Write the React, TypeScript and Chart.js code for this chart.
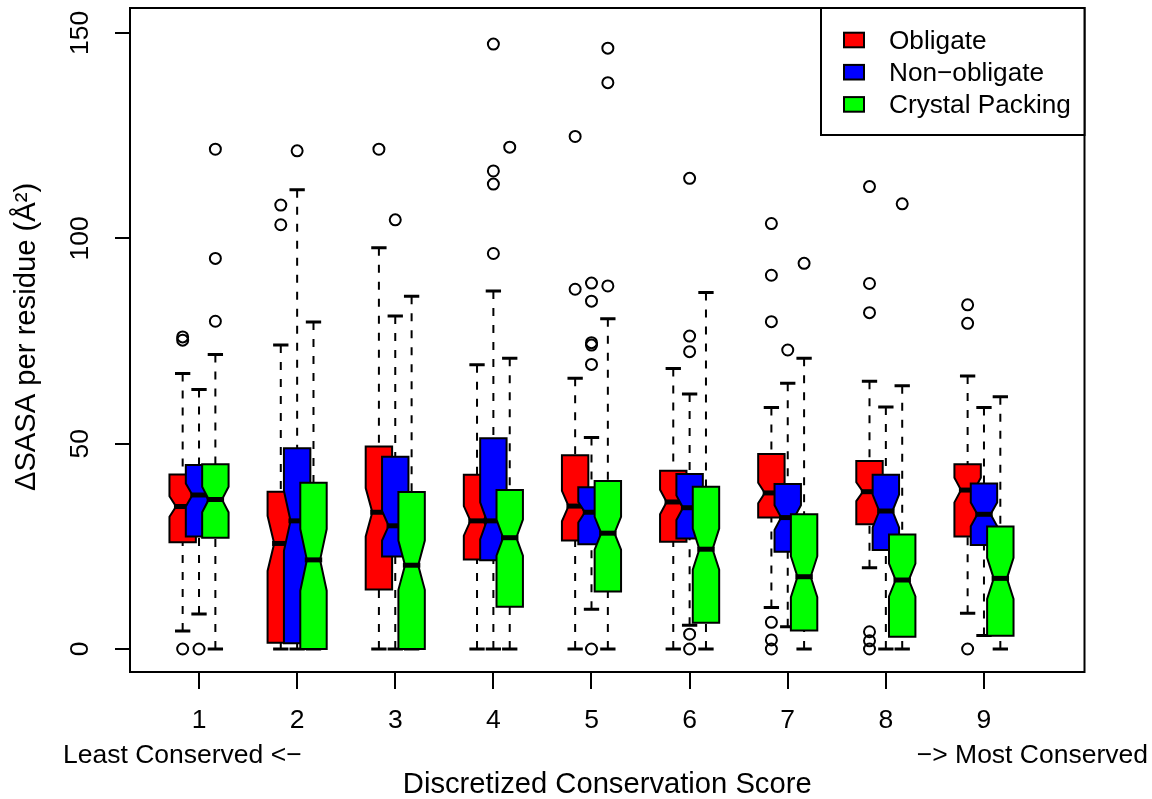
import { useEffect, useRef } from 'react';
import { Chart, registerables } from 'chart.js';

Chart.register(...registerables);

const FONT = '"Liberation Sans", Arial, Helvetica, sans-serif';

// Discretized conservation score groups (x categories)
const groups = [1, 2, 3, 4, 5, 6, 7, 8, 9];
const yTickValues = [0, 50, 100, 150];
const seriesNames = ['Obligate', 'Non\u2212obligate', 'Crystal Packing'];
const seriesColors = ['#ff0000', '#0000ff', '#00ff00'];

// Obligate
const obligateWhiskerLow = [4.4, 0, 0, 0, 0, 0, 10.1, 19.8, 8.7];
const obligateQ1 = [26.0, 1.5, 14.5, 21.8, 26.4, 26.1, 32.0, 30.4, 27.4];
const obligateMedian = [34.7, 25.7, 33.3, 31.2, 34.8, 35.8, 38.0, 38.3, 38.7];
const obligateQ3 = [42.5, 38.3, 49.3, 42.4, 47.2, 43.4, 47.5, 45.8, 45.0];
const obligateWhiskerHigh = [67.1, 74.0, 97.7, 69.2, 65.9, 68.3, 58.8, 65.2, 66.5];
const obligateNotch = [2.5, 6.7, 5.9, 3.6, 3.7, 3.0, 2.5, 2.3, 3.0];
const obligateOutliers = [
  [0, 75.2, 76.0], [103.3, 108.1], [121.7], [], [87.6, 124.8], [],
  [0, 2.2, 6.5, 79.7, 91.0, 103.6], [0, 2.0, 4.2, 81.9, 89.0, 112.6], [0, 79.3, 83.8],
];

// Non-obligate
const nonObligateWhiskerLow = [8.5, 0, 0, 0, 9.7, 5.8, 5.4, 0, 3.3];
const nonObligateQ1 = [27.4, 1.4, 22.5, 21.6, 25.5, 26.9, 23.7, 24.1, 25.3];
const nonObligateMedian = [37.5, 31.2, 30.0, 31.2, 33.3, 34.4, 32.0, 33.6, 32.8];
const nonObligateQ3 = [44.8, 48.9, 46.8, 51.3, 39.4, 42.6, 40.2, 42.4, 40.3];
const nonObligateWhiskerHigh = [63.2, 111.8, 81.1, 87.2, 51.5, 62.1, 64.7, 58.9, 58.8];
const nonObligateNotch = [2.8, 7.3, 3.6, 4.5, 2.5, 3.0, 3.0, 4.0, 2.9];
const nonObligateOutliers = [
  [0], [121.3], [104.5], [96.3, 113.2, 116.4, 147.3], [0, 69.3, 74.0, 74.6, 84.7, 89.1],
  [0, 3.6, 72.4, 76.2, 114.6], [72.8], [], [],
];

// Crystal packing
const crystalWhiskerLow = [0, 0, 0, 0, 0, 0, 0, 0, 0];
const crystalQ1 = [27.1, 0, 0, 10.3, 14.0, 6.4, 4.5, 3.0, 3.2];
const crystalMedian = [36.4, 21.7, 20.4, 27.1, 28.2, 24.3, 17.6, 16.8, 17.2];
const crystalQ3 = [45.0, 40.5, 38.2, 38.7, 40.9, 39.5, 32.8, 27.9, 29.8];
const crystalWhiskerHigh = [71.7, 79.6, 85.9, 70.8, 80.4, 86.8, 70.8, 64.1, 61.4];
const crystalNotch = [3.1, 7.5, 6.0, 4.4, 4.0, 5.0, 5.0, 4.0, 5.0];
const crystalOutliers = [
  [79.8, 95.1, 121.7], [], [], [122.2], [88.4, 137.9, 146.3], [], [93.9], [108.4], [],
];

const series = [
  { low: obligateWhiskerLow, q1: obligateQ1, med: obligateMedian, q3: obligateQ3, high: obligateWhiskerHigh, notch: obligateNotch, out: obligateOutliers },
  { low: nonObligateWhiskerLow, q1: nonObligateQ1, med: nonObligateMedian, q3: nonObligateQ3, high: nonObligateWhiskerHigh, notch: nonObligateNotch, out: nonObligateOutliers },
  { low: crystalWhiskerLow, q1: crystalQ1, med: crystalMedian, q3: crystalQ3, high: crystalWhiskerHigh, notch: crystalNotch, out: crystalOutliers },
];

const seriesOffsets = [-1 / 6, 0, 1 / 6];
const BOX_HALF = 0.1346;

const boxPlugin = {
  id: 'notchedBoxes',
  beforeDatasetsDraw(chart: any) {
    const { ctx } = chart;
    const x = chart.scales.x;
    const y = chart.scales.y;
    ctx.save();
    groups.forEach((g, gi) => {
      series.forEach((s, si) => {
        const xv = g + seriesOffsets[si];
        const cx = x.getPixelForValue(xv);
        const hw = x.getPixelForValue(xv + BOX_HALF) - cx;
        const yLow = y.getPixelForValue(s.low[gi]);
        const yHigh = y.getPixelForValue(s.high[gi]);
        const yQ1 = y.getPixelForValue(s.q1[gi]);
        const yQ3 = y.getPixelForValue(s.q3[gi]);
        const yMed = y.getPixelForValue(s.med[gi]);
        const yCLo = y.getPixelForValue(s.med[gi] - s.notch[gi]);
        const yCHi = y.getPixelForValue(s.med[gi] + s.notch[gi]);
        // whiskers
        ctx.strokeStyle = '#000';
        ctx.lineWidth = 2;
        ctx.setLineDash([8, 9]);
        ctx.lineCap = 'butt';
        ctx.beginPath();
        ctx.moveTo(cx, yHigh);
        ctx.lineTo(cx, yQ3);
        ctx.moveTo(cx, yLow);
        ctx.lineTo(cx, yQ1);
        ctx.stroke();
        ctx.setLineDash([]);
        // staples
        ctx.lineWidth = 3;
        const sw = hw * 0.58;
        ctx.beginPath();
        ctx.moveTo(cx - sw, yHigh);
        ctx.lineTo(cx + sw, yHigh);
        ctx.moveTo(cx - sw, yLow);
        ctx.lineTo(cx + sw, yLow);
        ctx.stroke();
        // notched box
        ctx.beginPath();
        ctx.moveTo(cx - hw, yQ1);
        ctx.lineTo(cx + hw, yQ1);
        ctx.lineTo(cx + hw, yCLo);
        ctx.lineTo(cx + hw * 0.5, yMed);
        ctx.lineTo(cx + hw, yCHi);
        ctx.lineTo(cx + hw, yQ3);
        ctx.lineTo(cx - hw, yQ3);
        ctx.lineTo(cx - hw, yCHi);
        ctx.lineTo(cx - hw * 0.5, yMed);
        ctx.lineTo(cx - hw, yCLo);
        ctx.closePath();
        ctx.fillStyle = seriesColors[si];
        ctx.fill();
        ctx.lineWidth = 2;
        ctx.lineJoin = 'miter';
        ctx.stroke();
        // median
        ctx.lineWidth = 5;
        ctx.beginPath();
        ctx.moveTo(cx - hw * 0.66, yMed);
        ctx.lineTo(cx + hw * 0.66, yMed);
        ctx.stroke();
      });
    });
    ctx.restore();
  },
  afterDraw(chart: any) {
    const { ctx, chartArea } = chart;
    const y = chart.scales.y;
    ctx.save();
    // frame
    ctx.strokeStyle = '#000';
    ctx.lineWidth = 2;
    ctx.strokeRect(chartArea.left, chartArea.top, chartArea.right - chartArea.left, chartArea.bottom - chartArea.top);
    ctx.fillStyle = '#000';
    // y tick labels (rotated, R style)
    ctx.font = `26.5px ${FONT}`;
    ctx.textAlign = 'center';
    ctx.textBaseline = 'middle';
    yTickValues.forEach((v) => {
      ctx.save();
      ctx.translate(81, y.getPixelForValue(v));
      ctx.rotate(-Math.PI / 2);
      ctx.fillText(String(v), 0, 0);
      ctx.restore();
    });
    // y title
    ctx.save();
    ctx.font = `29.2px ${FONT}`;
    ctx.translate(35, (chartArea.top + chartArea.bottom) / 2 - 3);
    ctx.rotate(-Math.PI / 2);
    ctx.textBaseline = 'alphabetic';
    ctx.fillText('\u0394SASA per residue (\u00C5\u00B2)', 0, 0);
    ctx.restore();
    // x title
    ctx.font = `29.2px ${FONT}`;
    ctx.textAlign = 'center';
    ctx.textBaseline = 'middle';
    ctx.fillText('Discretized Conservation Score', (chartArea.left + chartArea.right) / 2, 785);
    ctx.font = `26.5px ${FONT}`;
    ctx.textAlign = 'left';
    ctx.fillText('Least Conserved <\u2212', 63, 756);
    ctx.textAlign = 'right';
    ctx.fillText('\u2212> Most Conserved', 1148, 756);
    // legend
    const lx = 821;
    const ly = chartArea.top;
    const lw = chartArea.right - lx;
    const lh = 127;
    ctx.fillStyle = '#fff';
    ctx.fillRect(lx, ly, lw, lh);
    ctx.strokeRect(lx, ly, lw, lh);
    ctx.font = `26.2px ${FONT}`;
    ctx.textAlign = 'left';
    ctx.textBaseline = 'middle';
    seriesNames.forEach((name, i) => {
      const cy = 40 + i * 32.2;
      ctx.fillStyle = seriesColors[i];
      ctx.fillRect(844, cy - 7.3, 20, 14.6);
      ctx.lineWidth = 2;
      ctx.strokeRect(844, cy - 7.3, 20, 14.6);
      ctx.fillStyle = '#000';
      ctx.fillText(name, 889, cy + 1.5);
    });
    ctx.restore();
  },
};

export default function App() {
  const canvasRef = useRef<HTMLCanvasElement | null>(null);

  useEffect(() => {
    if (!canvasRef.current) return;
    const outlierSets = series.map((s, si) => ({
      type: 'scatter' as const,
      label: seriesNames[si] + ' outliers',
      data: s.out.flatMap((vals, gi) => vals.map((v) => ({ x: groups[gi] + seriesOffsets[si], y: v }))),
      pointStyle: 'circle' as const,
      pointRadius: 5.5,
      pointBorderWidth: 2,
      pointBorderColor: '#000',
      pointBackgroundColor: 'rgba(0,0,0,0)',
      showLine: false,
    }));
    const chart = new Chart(canvasRef.current, {
      type: 'scatter',
      data: { datasets: outlierSets },
      options: {
        animation: false,
        responsive: false,
        devicePixelRatio: 1,
        layout: { padding: { left: 0, top: 8, right: 67.5, bottom: 0 } },
        plugins: { legend: { display: false }, tooltip: { enabled: false } },
        scales: {
          x: {
            type: 'linear',
            min: 0.2966,
            max: 10.0245,
            afterBuildTicks: (scale: any) => {
              scale.ticks = groups.map((g) => ({ value: g }));
            },
            afterFit: (scale: any) => {
              scale.height = 127;
            },
            grid: { drawOnChartArea: false, drawTicks: true, tickLength: 17, color: '#000', lineWidth: 2 },
            border: { display: false },
            ticks: {
              color: '#000',
              font: { size: 26.5, family: FONT },
              padding: 16,
              maxRotation: 0,
              autoSkip: false,
              callback: (v: any) => String(v),
            },
          },
          y: {
            type: 'linear',
            min: -5.6,
            max: 156.08,
            afterBuildTicks: (scale: any) => {
              scale.ticks = yTickValues.map((v) => ({ value: v }));
            },
            afterFit: (scale: any) => {
              scale.width = 130;
            },
            grid: { drawOnChartArea: false, drawTicks: true, tickLength: 15, color: '#000', lineWidth: 2 },
            border: { display: false },
            ticks: { display: false },
          },
        },
      },
      plugins: [boxPlugin],
    });
    return () => chart.destroy();
  }, []);

  return (
    <div style={{ position: 'absolute', left: 0, top: 0, width: 1152, height: 799, background: '#fff' }}>
      <canvas ref={canvasRef} width={1152} height={799} style={{ display: 'block', width: 1152, height: 799 }} />
    </div>
  );
}
